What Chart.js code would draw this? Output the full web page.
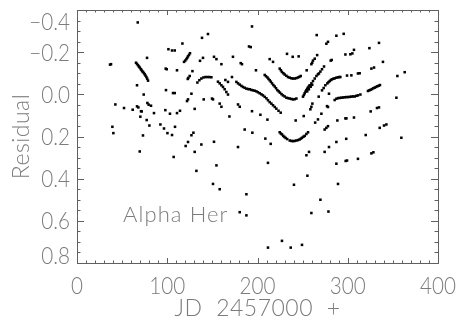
<!DOCTYPE html>
<html>
<head>
<meta charset="utf-8">
<script src="https://cdn.jsdelivr.net/npm/chart.js@4.4.1/dist/chart.umd.min.js"></script>
<style>
  html, body { margin: 0; padding: 0; background: #fff; }
  #wrap { width: 459px; height: 320px; }
</style>
</head>
<body>
<div id="wrap"><canvas id="chart" width="459" height="320"></canvas></div>
<script>
// residuals, grouped by region
const jdLeft = [67.3, 116.8, 101.3, 105.3, 108.3, 77.6,
  125.2, 124.1, 123.0, 122.1, 121.2, 119.9, 118.6,
  136.3, 139.6, 36.6, 37.7,
  65.4, 66.5, 67.6, 68.6, 69.5, 70.6, 71.4, 72.2, 73.1, 74.1, 75.0, 75.9, 76.9, 77.8, 78.7,
  98.3, 99.4, 110.8, 127.9, 124.9, 123.4, 122.7,
  66.5, 98.6, 106.4, 108.3, 126.8, 73.9, 123.0, 121.9,
  42.5, 66.5, 68.0, 78.0, 79.4, 82.0, 52.1, 61.7, 70.9, 71.7, 85.3, 97.9, 103.0, 110.8, 114.1, 130.4,
  70.2, 77.2, 80.2, 92.4, 96.4, 108.6, 39.2, 40.3, 100.2, 105.3, 73.1, 126.8, 129.0,
  69.5, 107.1, 123.0, 120.4, 130.4, 132.3];
const resLeft = [-0.341, -0.241, -0.214, -0.208, -0.208, -0.173,
  -0.195, -0.187, -0.180, -0.173, -0.167, -0.160, -0.154,
  -0.159, -0.173, -0.141, -0.143,
  -0.150, -0.144, -0.138, -0.132, -0.127, -0.120, -0.116, -0.110, -0.106, -0.101, -0.095, -0.089, -0.082, -0.074, -0.065,
  -0.122, -0.119, -0.114, -0.110, -0.087, -0.078, -0.073,
  -0.043, -0.020, -0.006, -0.006, -0.003, 0.001, 0.024, 0.032,
  0.048, 0.057, 0.062, 0.041, 0.049, 0.054, 0.065, 0.073, 0.080, 0.081, 0.089, 0.075, 0.092, 0.089, 0.078, 0.069,
  0.106, 0.122, 0.148, 0.143, 0.162, 0.154, 0.154, 0.184, 0.184, 0.193, 0.195, 0.194, 0.182,
  0.271, 0.297, 0.226, 0.245, 0.273, 0.363];

const jdMid = [193.9, 138.5, 145.1, 190.6, 192.5, 265.6, 232.7, 239.0, 245.6, 151.8, 154.5, 160.0, 172.8, 181.4, 182.8, 213.5, 217.2, 198.3,
  259.7, 260.6, 261.5, 263.4, 266.1, 254.5,
  133.4, 135.6, 137.8, 140.1, 142.3, 144.5, 146.7, 148.9,
  156.2, 158.1, 160.0, 161.8, 163.6, 165.5, 167.3, 164.4, 167.3, 171.7,
  176.6, 178.4, 180.3, 182.2, 183.9, 185.8, 187.7, 189.5, 191.4, 193.2, 195.0, 196.9, 198.8, 200.5, 202.4, 204.3, 206.1, 208.0, 209.9, 211.6, 213.5, 215.4, 217.2, 219.1, 220.9, 223.3, 225.7,
  208.0, 209.4, 211.0, 212.2, 213.5, 214.8, 216.1, 217.6, 219.1, 220.5, 222.0, 223.5, 224.9, 226.6, 228.2, 230.1, 232.0, 233.8, 235.7, 237.6, 239.3, 241.2, 243.1,
  224.6, 225.9, 227.1, 228.7, 230.1, 232.0, 233.8, 235.7, 237.6, 239.3, 241.2, 243.1, 244.9, 246.4, 247.9,
  250.4, 251.4, 252.3, 253.2, 254.2, 255.1, 255.9, 256.9, 257.8, 259.7, 261.5, 263.4, 265.3, 267.0, 268.1, 269.7, 271.5, 273.7,
  255.1, 256.9, 258.9, 260.6,
  140.4, 149.6, 150.7, 158.1, 160.0, 178.4, 180.3, 168.9, 193.9, 203.2, 211.0, 242.3, 251.2, 258.6, 259.7, 260.8, 263.9, 267.0, 185.8, 194.3,
  224.6, 225.9, 227.1, 228.5, 229.8, 231.2, 232.9, 235.7, 237.6, 239.3, 241.2, 243.1, 244.9, 246.7, 248.1, 249.3, 250.9, 252.3, 254.2, 256.0,
  208.7, 214.6];
const resMid = [-0.322, -0.268, -0.286, -0.227, -0.224, -0.281, -0.192, -0.178, -0.180, -0.178, -0.167, -0.143, -0.178, -0.148, -0.143, -0.167, -0.154, -0.114,
  -0.143, -0.150, -0.160, -0.169, -0.186, -0.114,
  -0.056, -0.067, -0.075, -0.080, -0.082, -0.082, -0.082, -0.081,
  -0.060, -0.052, -0.043, -0.035, -0.024, -0.011, 0.001, -0.068, -0.059, -0.082,
  -0.059, -0.052, -0.046, -0.040, -0.035, -0.031, -0.027, -0.025, -0.024, -0.021, -0.019, -0.017, -0.014, -0.010, -0.005, 0.000, 0.005, 0.012, 0.019, 0.028, 0.037, 0.044, 0.052, 0.060, 0.068, 0.078, 0.087,
  -0.092, -0.086, -0.080, -0.073, -0.067, -0.060, -0.052, -0.044, -0.037, -0.029, -0.020, -0.014, -0.008, -0.001, 0.005, 0.010, 0.016, 0.018, 0.020, 0.022, 0.024, 0.023, 0.020,
  -0.122, -0.114, -0.106, -0.100, -0.094, -0.088, -0.082, -0.079, -0.076, -0.075, -0.075, -0.077, -0.080, -0.083, -0.087,
  0.011, 0.003, -0.005, -0.013, -0.020, -0.026, -0.032, -0.037, -0.043, -0.052, -0.063, -0.075, -0.087, -0.095, -0.099, -0.108, -0.119, -0.132,
  -0.014, -0.024, -0.036, -0.045,
  0.024, 0.020, 0.024, 0.044, 0.059, 0.048, 0.059, 0.105, 0.080, 0.097, 0.120, 0.124, 0.103, 0.071, 0.059, 0.044, 0.134, 0.119, 0.167, 0.182,
  0.180, 0.186, 0.190, 0.197, 0.202, 0.207, 0.212, 0.219, 0.221, 0.222, 0.221, 0.219, 0.217, 0.214, 0.210, 0.206, 0.201, 0.197, 0.188, 0.180,
  0.210, 0.235];

const jdRight = [287.4, 295.5, 276.3, 278.1, 334.6, 297.4, 302.9, 305.1, 306.9, 324.0, 281.1, 282.2, 339.0, 326.2, 329.1, 363.1, 355.0, 299.2, 304.0, 311.3, 313.2,
  275.2, 277.4, 278.7, 280.0, 281.3, 282.5, 284.1, 285.5, 287.4, 289.2, 290.5, 291.8,
  273.3, 271.5, 267.8, 279.2,
  285.5, 287.4, 289.2, 291.1, 293.0, 294.7, 296.6, 298.5, 300.3, 302.2, 304.0, 305.8, 307.7, 309.6, 311.3, 314.0,
  322.4, 324.0, 325.4, 326.9, 328.4, 329.9, 331.3, 332.8, 334.3, 335.7,
  353.9, 277.0, 278.1, 270.8, 288.5, 297.4, 298.5, 306.9, 332.4, 334.6, 325.4, 274.4, 276.3, 278.1, 335.4, 340.2, 342.8, 298.3, 319.9, 359.4];
const resRight = [-0.278, -0.287, -0.240, -0.249, -0.244, -0.189, -0.190, -0.194, -0.211, -0.219, -0.160, -0.163, -0.154, -0.122, -0.127, -0.105, -0.087, -0.089, -0.090, -0.099, -0.100,
  -0.043, -0.052, -0.058, -0.063, -0.068, -0.071, -0.074, -0.076, -0.079, -0.081, -0.082, -0.082,
  -0.030, -0.019, 0.011, -0.003,
  0.027, 0.021, 0.018, 0.017, 0.016, 0.015, 0.014, 0.013, 0.013, 0.012, 0.011, 0.010, 0.010, 0.007, 0.005, 0.001,
  -0.016, -0.019, -0.022, -0.025, -0.029, -0.032, -0.035, -0.038, -0.041, -0.044,
  0.016, 0.056, 0.060, 0.092, 0.124, 0.114, 0.114, 0.110, 0.065, 0.062, 0.081, 0.167, 0.159, 0.151, 0.159, 0.148, 0.143, 0.211, 0.193, 0.206];

const jdLow = [137.8, 151.8, 154.5, 178.4, 150.7, 158.1, 187.7, 180.3, 187.7, 211.6, 254.2, 257.1, 255.3, 240.4, 259.7, 211.6, 227.1, 236.8, 249.3,
  274.4, 279.2, 287.4, 287.4, 297.7, 299.2, 311.3, 326.2, 328.4, 289.2, 269.7, 278.6];
const resLow = [0.238, 0.225, 0.337, 0.250, 0.425, 0.450, 0.474, 0.559, 0.574, 0.325, 0.289, 0.273, 0.386, 0.429, 0.563, 0.727, 0.695, 0.727, 0.714,
  0.273, 0.250, 0.226, 0.329, 0.316, 0.314, 0.306, 0.280, 0.275, 0.425, 0.500, 0.556];

const xTicks = [0, 100, 200, 300, 400];
const yTicks = [-0.4, -0.2, 0.0, 0.2, 0.4, 0.6, 0.8];
const yTickLabels = ['\u22120.4', '\u22120.2', '0.0', '0.2', '0.4', '0.6', '0.8'];
const xTitle = 'JD 2457000 +';
const yTitle = 'Residual';
const starLabel = 'Alpha Her';

const AXIS_COLOR = '#606060';
const TEXT_COLOR = '#7c7c7c';
const FONT = 'Lato';

const jd = [...jdLeft, ...jdMid, ...jdRight, ...jdLow];
const residual = [...resLeft, ...resMid, ...resRight, ...resLow];
const points = jd.map((x, i) => ({ x: x, y: residual[i] }));

// thin IDL-ish text, optionally squeezed horizontally
function drawText(ctx, str, x, y, opt) {
    ctx.save();
    ctx.font = '300 ' + opt.size + 'px ' + FONT;
    ctx.fillStyle = TEXT_COLOR;
    ctx.letterSpacing = (opt.ls || 0) + 'px';
    ctx.wordSpacing = (opt.ws || 0) + 'px';
    ctx.textBaseline = 'alphabetic';
    const sx = opt.sx || 1;
    ctx.translate(x, y);
    if (opt.rot) ctx.rotate(opt.rot);
    ctx.scale(sx, 1);
    const w = ctx.measureText(str).width;
    let dx = 0;
    if (opt.align === 'center') dx = -w / 2;
    else if (opt.align === 'right') dx = -w;
    ctx.textAlign = 'left';
    ctx.fillText(str, dx, 0);
    ctx.restore();
}

const idlAxes = {
    id: 'idlAxes',
    afterDraw(chart) {
        const { ctx, chartArea: a, scales: { x, y } } = chart;
        ctx.save();
        ctx.strokeStyle = AXIS_COLOR;
        ctx.lineWidth = 1;
        ctx.strokeRect(a.left + 0.5, a.top + 0.5, a.right - a.left, a.bottom - a.top);

        ctx.beginPath();
        for (let v = xTicks[0]; v <= xTicks[xTicks.length - 1]; v += 10) {
            const px = Math.round(x.getPixelForValue(v)) + 0.5;
            const len = v % 100 === 0 ? 5 : 2.5;
            ctx.moveTo(px, a.bottom); ctx.lineTo(px, a.bottom - len);
            ctx.moveTo(px, a.top); ctx.lineTo(px, a.top + len);
        }
        for (let i = 0; i <= 24; i++) {
            const v = yTicks[0] + i * 0.05;
            const py = Math.round(y.getPixelForValue(v)) + 0.5;
            const len = i % 4 === 0 ? 7 : 3.5;
            ctx.moveTo(a.left, py); ctx.lineTo(a.left + len, py);
            ctx.moveTo(a.right, py); ctx.lineTo(a.right - len, py);
        }
        ctx.stroke();
        ctx.restore();

        const tickOpt = { size: 24, sx: 0.86 };
        xTicks.forEach(v => {
            drawText(ctx, String(v), x.getPixelForValue(v), 294, { ...tickOpt, align: 'center' });
        });
        yTicks.forEach((v, i) => {
            let cy = y.getPixelForValue(v);
            if (i === 0) cy += 11;
            if (i === yTicks.length - 1) cy -= 8;
            drawText(ctx, yTickLabels[i], 70, cy + 8.6, { ...tickOpt, align: 'right' });
        });

        drawText(ctx, xTitle, (a.left + a.right) / 2, 316, { size: 23, ls: 0.5, ws: 7, align: 'center' });
        drawText(ctx, yTitle, 29, (a.top + a.bottom) / 2, { size: 23, ls: 0.5, align: 'center', rot: -Math.PI / 2 });
        drawText(ctx, starLabel, 123, 222, { size: 22, ls: 1.1, align: 'left' });
    }
};

new Chart(document.getElementById('chart'), {
    type: 'scatter',
    data: {
        datasets: [{
            data: points,
            pointStyle: 'rect',
            pointRadius: 1.8,
            pointHoverRadius: 1.8,
            pointBorderWidth: 0,
            borderWidth: 0,
            backgroundColor: '#000',
            pointBackgroundColor: '#000'
        }]
    },
    options: {
        responsive: false,
        animation: false,
        events: [],
        layout: { padding: { left: 77, right: 21, top: 10, bottom: 57 } },
        plugins: { legend: { display: false }, tooltip: { enabled: false } },
        scales: {
            x: { type: 'linear', min: 0, max: 400, display: false },
            y: { type: 'linear', min: -0.4, max: 0.8, reverse: true, display: false }
        }
    },
    plugins: [idlAxes]
});
</script>
</body>
</html>
